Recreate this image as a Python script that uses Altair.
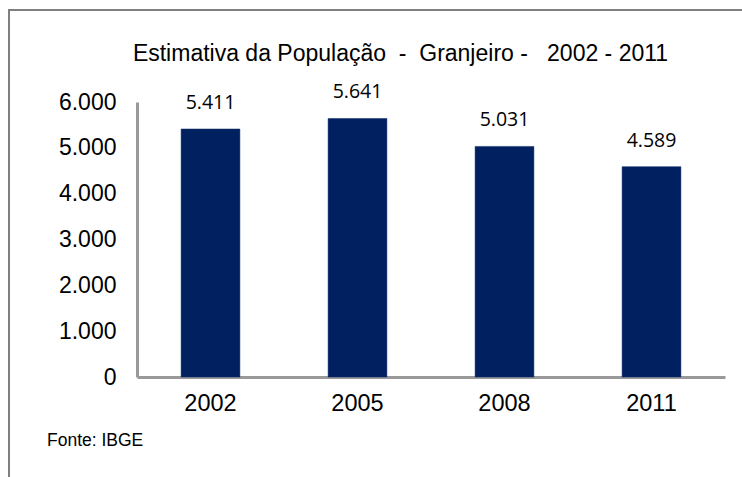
import altair as alt
import pandas as pd

anos = ["2002", "2005", "2008", "2011"]
populacao = [5411, 5641, 5031, 4589]
titulo = "Estimativa da População\u00a0\u00a0-\u00a0\u00a0Granjeiro -\u00a0\u00a0\u00a02002 - 2011"
fonte = "Fonte: IBGE"

df = pd.DataFrame({"ano": anos, "pop": populacao})

W, H = 588, 275
FONT = "Liberation Sans"

base = alt.Chart(df)

bars = base.mark_bar(color="#002060", stroke="#0d2a66", strokeWidth=0.5).encode(
    x=alt.X("ano:N", sort=anos,
            scale=alt.Scale(paddingInner=0.6, paddingOuter=0.3),
            axis=alt.Axis(title=None, labelAngle=0, labelFontSize=23.5, labelFont=FONT,
                          labelColor="#000000", labelPadding=14, ticks=False,
                          domainColor="#999999", domainWidth=3)),
    y=alt.Y("pop:Q", scale=alt.Scale(domain=[0, 6000], nice=False),
            axis=alt.Axis(title=None, values=[0, 1000, 2000, 3000, 4000, 5000, 6000],
                          labelExpr="replace(format(datum.value, ','), ',', '.')",
                          labelFontSize=23, labelFont=FONT, labelColor="#000000",
                          labelPadding=21, ticks=False, grid=False,
                          domainColor="#999999", domainWidth=3)),
)

labels = base.transform_calculate(
    rotulo="replace(format(datum.pop, ','), ',', '.')"
).mark_text(fontSize=19.5, font="Open Sans", dy=-20, baseline="alphabetic",
            color="#000000").encode(
    x=alt.X("ano:N", sort=anos),
    y="pop:Q",
    text="rotulo:N",
)

frame = alt.Chart(pd.DataFrame({"a": [0]})).mark_rect(
    fill=None, stroke="#7f7f7f", strokeWidth=2
).encode(
    x=alt.value(-128), x2=alt.value(700), y=alt.value(-92), y2=alt.value(500)
)

src = alt.Chart(pd.DataFrame({"t": [fonte]})).mark_text(
    fontSize=17.5, font=FONT, align="left", baseline="middle", color="#000000"
).encode(
    x=alt.value(-90), y=alt.value(339), text="t:N"
)

ttl = alt.Chart(pd.DataFrame({"t": [titulo]})).mark_text(
    fontSize=23, font=FONT, align="center", baseline="alphabetic", color="#000000"
).encode(
    x=alt.value(263.5), y=alt.value(-41), text="t:N"
)

chart = alt.layer(frame, bars, labels, src, ttl).properties(
    width=W, height=H,
    autosize=alt.AutoSizeParams(type="none"),
    padding={"left": 137, "top": 102, "right": 17, "bottom": 100},
    background="#ffffff",
).configure_view(stroke=None)

chart.save("out.html", embed_options={"renderer": "svg", "actions": False})
